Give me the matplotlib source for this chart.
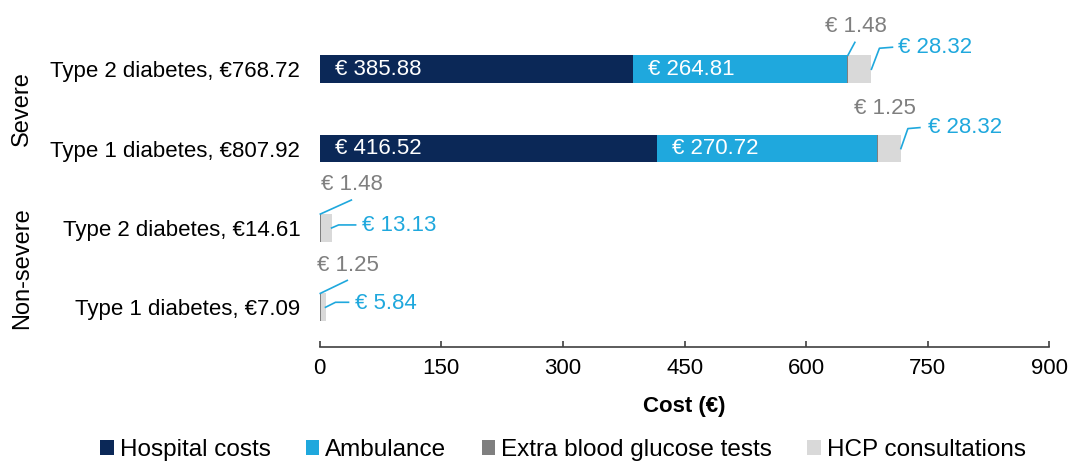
import matplotlib
matplotlib.use("Agg")
import matplotlib.pyplot as plt
import matplotlib.transforms as mtransforms
from matplotlib.patches import Patch
import numpy as np

plt.rcParams['font.family'] = ['Liberation Sans', 'DejaVu Sans']

# ---------------- data ----------------
categories = ["Type 2 diabetes, €768.72", "Type 1 diabetes, €807.92",
              "Type 2 diabetes, €14.61", "Type 1 diabetes, €7.09"]
groups = ["Severe", "Non-severe"]
series_names = ["Hospital costs", "Ambulance", "Extra blood glucose tests", "HCP consultations"]
hospital = [385.88, 416.52, 0.0, 0.0]
ambulance = [264.81, 270.72, 0.0, 0.0]
glucose = [1.48, 1.25, 1.48, 1.25]
hcp = [28.32, 28.32, 13.13, 5.84]
xticks = [0, 150, 300, 450, 600, 750, 900]
xlabel = "Cost (€)"

# ---------------- style ----------------
colors = ["#0B2857", "#1FA8DD", "#7F7F7F", "#D9D9D9"]
label_gray = "#7F7F7F"
label_blue = "#1FA8DD"
fs = 16

fig = plt.figure(figsize=(10.73, 4.62), dpi=100)
ax = fig.add_axes([0.298, 0.249, 0.680, 0.687])

ypos = np.array([3, 2, 1, 0], dtype=float)
bar_h = 0.35
series = [hospital, ambulance, glucose, hcp]
left = np.zeros(4)
for vals, col, name in zip(series, colors, series_names):
    ax.barh(ypos, vals, left=left, height=bar_h, color=col, label=name, linewidth=0)
    left = left + np.array(vals)

# in-bar labels (hospital and ambulance)
for i in range(4):
    if hospital[i] > 0:
        ax.annotate(f"€ {hospital[i]:.2f}", (0, ypos[i]), xytext=(15, 0),
                    textcoords="offset pixels", ha="left", va="center",
                    color="white", fontsize=fs)
    if ambulance[i] > 0:
        ax.annotate(f"€ {ambulance[i]:.2f}", (hospital[i], ypos[i]), xytext=(15, 0),
                    textcoords="offset pixels", ha="left", va="center",
                    color="white", fontsize=fs)

ax.set_xlim(0, 900)
ax.set_ylim(-0.5, 3.5)


def leader(x, y, pts, color):
    tr = mtransforms.Affine2D() + mtransforms.ScaledTranslation(x, y, ax.transData)
    xs = [p[0] for p in pts]
    ys = [p[1] for p in pts]
    ax.add_line(plt.Line2D(xs, ys, transform=tr, color=color, lw=1.2, clip_on=False))


# glucose labels (gray), leader offsets in pixels
gl_text_off = [(8, 29), (8, 26), (32, 30), (28, 28)]
gl_lines = [[(0, 0), (7, 13)], None, [(0, 0), (31, 14)], [(0, 0), (27, 13)]]
# HCP labels (blue)
hc_text_off = [(27, 22), (27, 21), (30, 2), (29, 4)]
hc_lines = [[(0, 0), (8, 21), (21, 22)], [(0, 0), (7, 20), (19, 21)],
            [(0, 0), (7, 3), (24, 3)], [(0, 0), (10, 5), (23, 5)]]

for i in range(4):
    gx = hospital[i] + ambulance[i] + glucose[i] / 2
    gy = ypos[i] + bar_h / 2
    ax.annotate(f"€ {glucose[i]:.2f}", (gx, gy), xytext=gl_text_off[i],
                textcoords="offset pixels", ha="center", va="center",
                color=label_gray, fontsize=fs, annotation_clip=False)
    if gl_lines[i] is not None:
        leader(gx, gy, gl_lines[i], label_blue)
    hx = hospital[i] + ambulance[i] + glucose[i] + hcp[i]
    hy = ypos[i]
    ax.annotate(f"€ {hcp[i]:.2f}", (hx, hy), xytext=hc_text_off[i],
                textcoords="offset pixels", ha="left", va="center",
                color=label_blue, fontsize=fs, annotation_clip=False)
    leader(hx, hy, hc_lines[i], label_blue)

# axes styling
for s in ["top", "right", "left"]:
    ax.spines[s].set_visible(False)
ax.spines["bottom"].set_color("#404040")
ax.spines["bottom"].set_linewidth(1.2)
ax.set_xticks(xticks)
ax.set_xticklabels([str(t) for t in xticks], fontsize=fs)
ax.tick_params(axis="x", direction="in", length=4, width=1.2, color="#404040", pad=8)
ax.set_yticks(ypos)
ax.set_yticklabels(categories, fontsize=fs)
ax.tick_params(axis="y", length=0, pad=14)
ax.set_xlabel(xlabel, fontsize=fs, fontweight="bold", labelpad=12)

# group labels
fig.text(22 / 1073, 1 - 109 / 462, groups[0], rotation=90, ha="center", va="center", fontsize=fs + 1)
fig.text(22 / 1073, 1 - 268 / 462, groups[1], rotation=90, ha="center", va="center", fontsize=fs + 1)

handles = [Patch(facecolor=c, edgecolor="none") for c in colors]
fig.legend(handles, series_names, loc="center", bbox_to_anchor=(563 / 1073, 1 - 450 / 462),
           ncol=4, frameon=False, fontsize=17.5, handlelength=0.55, handleheight=0.55,
           handletextpad=0.25, columnspacing=1.45, borderaxespad=0, borderpad=0)

fig.savefig("out.png", dpi=100)
